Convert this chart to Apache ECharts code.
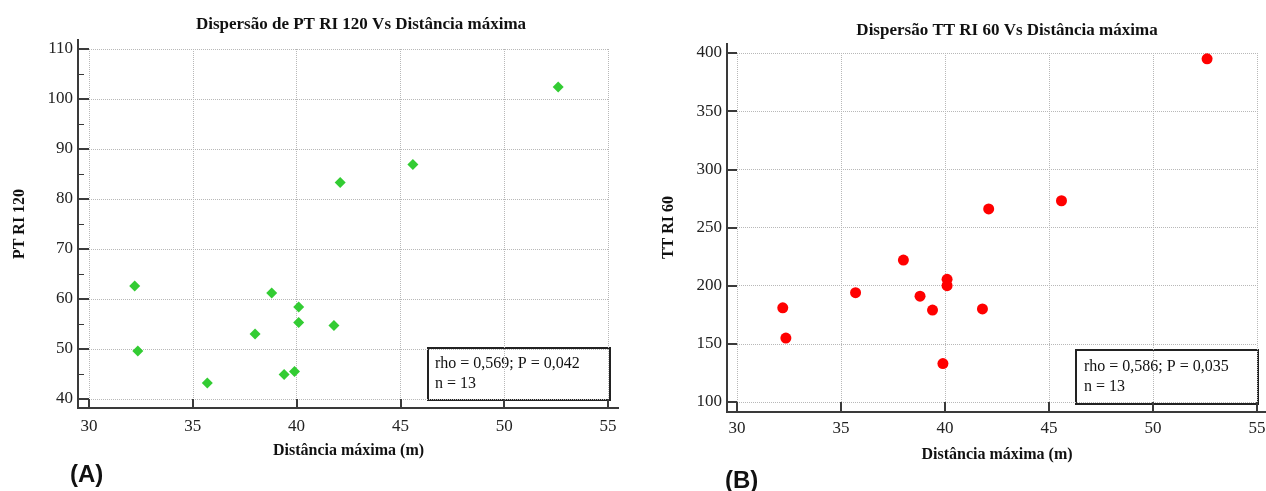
<!DOCTYPE html>
<html>
<head>
<meta charset="utf-8">
<script src="https://cdn.jsdelivr.net/npm/echarts@6/dist/echarts.min.js"></script>
<style>
  html, body { margin: 0; padding: 0; background: #fff; }
  #main { width: 1266px; height: 491px; }
</style>
</head>
<body>
<div id="main"></div>
<script>
// distância máxima (m), mesma para os dois painéis
const distancia = [32.2, 32.35, 35.7, 38.0, 38.8, 39.4, 39.9, 40.1, 40.1, 41.8, 42.1, 45.6, 52.6];
// painel A: PT RI 120
const ptRi120 = [62.6, 49.6, 43.2, 53.0, 61.2, 44.9, 45.5, 58.4, 55.3, 54.7, 83.3, 86.9, 102.4];
// painel B: TT RI 60
const ttRi60 = [181, 155, 194, 222, 191, 179, 133, 205.5, 200, 180, 266, 273, 395];

const xTicks = [30, 35, 40, 45, 50, 55];
const yTicksA = [40, 50, 60, 70, 80, 90, 100, 110];
const yTicksB = [100, 150, 200, 250, 300, 350, 400];

const statsA = ['rho = 0,569; P = 0,042', 'n = 13'];
const statsB = ['rho = 0,586; P = 0,035', 'n = 13'];

const serif = '"Liberation Serif", "DejaVu Serif", serif';
const axisColor = '#3a3a3a';

function pairs(xs, ys) {
  return xs.map((x, i) => [x, ys[i]]);
}

// eixo com linha deslocada; os símbolos 'rect' prolongam a linha até o canto
function valueAxis(ticks, gridIndex, opt) {
  return {
    type: 'value',
    gridIndex: gridIndex,
    min: ticks[0],
    max: ticks[ticks.length - 1],
    interval: ticks[1] - ticks[0],
    offset: opt.offset,
    name: opt.name,
    nameGap: opt.nameGap,
    nameLocation: 'middle',
    nameTextStyle: { color: '#111', fontFamily: serif, fontSize: 16, fontWeight: 'bold' },
    axisLine: {
      show: true, onZero: false,
      lineStyle: { color: axisColor, width: 2 },
      symbol: ['rect', 'rect'],
      symbolSize: [2, opt.ext + 2],
      symbolOffset: [-opt.ext / 2 + 1, opt.ext / 2 - 1]
    },
    axisTick: { show: true, inside: true, length: opt.offset, lineStyle: { color: axisColor, width: 2 } },
    minorTick: opt.minor
      ? { show: true, splitNumber: 2, length: 6, lineStyle: { color: axisColor, width: 1 } }
      : { show: false },
    axisLabel: { color: '#222', fontFamily: serif, fontSize: 17, margin: opt.margin },
    splitLine: { show: true, lineStyle: { color: '#b8b8b8', type: 'dotted', width: 1 } }
  };
}

const chart = echarts.init(document.getElementById('main'));

chart.setOption({
  backgroundColor: '#fff',
  animation: false,
  title: [
    {
      text: 'Dispersão de PT RI 120 Vs Distância máxima',
      left: 356, top: 11, textAlign: 'center',
      textStyle: { fontFamily: serif, fontSize: 17, fontWeight: 'bold', color: '#111' }
    },
    {
      text: 'Dispersão TT RI 60 Vs Distância máxima',
      left: 1002, top: 17, textAlign: 'center',
      textStyle: { fontFamily: serif, fontSize: 17, fontWeight: 'bold', color: '#111' }
    }
  ],
  grid: [
    { left: 89, right: 658, top: 49, bottom: 92, outerBoundsMode: 'none' },
    { left: 737, right: 9, top: 53, bottom: 89, outerBoundsMode: 'none' }
  ],
  xAxis: [
    valueAxis(xTicks, 0, { offset: 9, ext: 11, name: 'Distância máxima (m)', nameGap: 35, margin: 10 }),
    valueAxis(xTicks, 1, { offset: 10, ext: 11, name: 'Distância máxima (m)', nameGap: 35, margin: 8 })
  ],
  yAxis: [
    valueAxis(yTicksA, 0, { offset: 11, ext: 10, name: 'PT RI 120', nameGap: 50, margin: 5, minor: true }),
    valueAxis(yTicksB, 1, { offset: 10, ext: 10, name: 'TT RI 60', nameGap: 50, margin: 5 })
  ],
  series: [
    {
      type: 'scatter', xAxisIndex: 0, yAxisIndex: 0,
      symbol: 'diamond', symbolSize: 11,
      itemStyle: { color: '#33cc33', opacity: 1 },
      data: pairs(distancia, ptRi120)
    },
    {
      type: 'scatter', xAxisIndex: 1, yAxisIndex: 1,
      symbol: 'circle', symbolSize: 11,
      itemStyle: { color: '#ff0000', opacity: 1 },
      data: pairs(distancia, ttRi60)
    }
  ],
  graphic: [
    // caixas de estatística
    {
      type: 'group', left: 427, top: 347, z: 100,
      children: [
        { type: 'rect', shape: { x: 0, y: 0, width: 182, height: 52 },
          style: { fill: '#fff', stroke: '#222', lineWidth: 2 } },
        { type: 'text', x: 7, y: 6,
          style: { text: statsA.join('\n'), font: '16px ' + serif, lineHeight: 20, fill: '#111' } }
      ]
    },
    {
      type: 'group', left: 1075, top: 349, z: 100,
      children: [
        { type: 'rect', shape: { x: 0, y: 0, width: 182, height: 54 },
          style: { fill: '#fff', stroke: '#222', lineWidth: 2 } },
        { type: 'text', x: 8, y: 7,
          style: { text: statsB.join('\n'), font: '16px ' + serif, lineHeight: 20, fill: '#111' } }
      ]
    },
    // rótulos dos painéis
    { type: 'text', left: 70, top: 463,
      style: { text: '(A)', font: 'bold 24px "Liberation Sans", Arial, sans-serif', fill: '#111' } },
    { type: 'text', left: 725, top: 469,
      style: { text: '(B)', font: 'bold 24px "Liberation Sans", Arial, sans-serif', fill: '#111' } }
  ]
});
</script>
</body>
</html>
